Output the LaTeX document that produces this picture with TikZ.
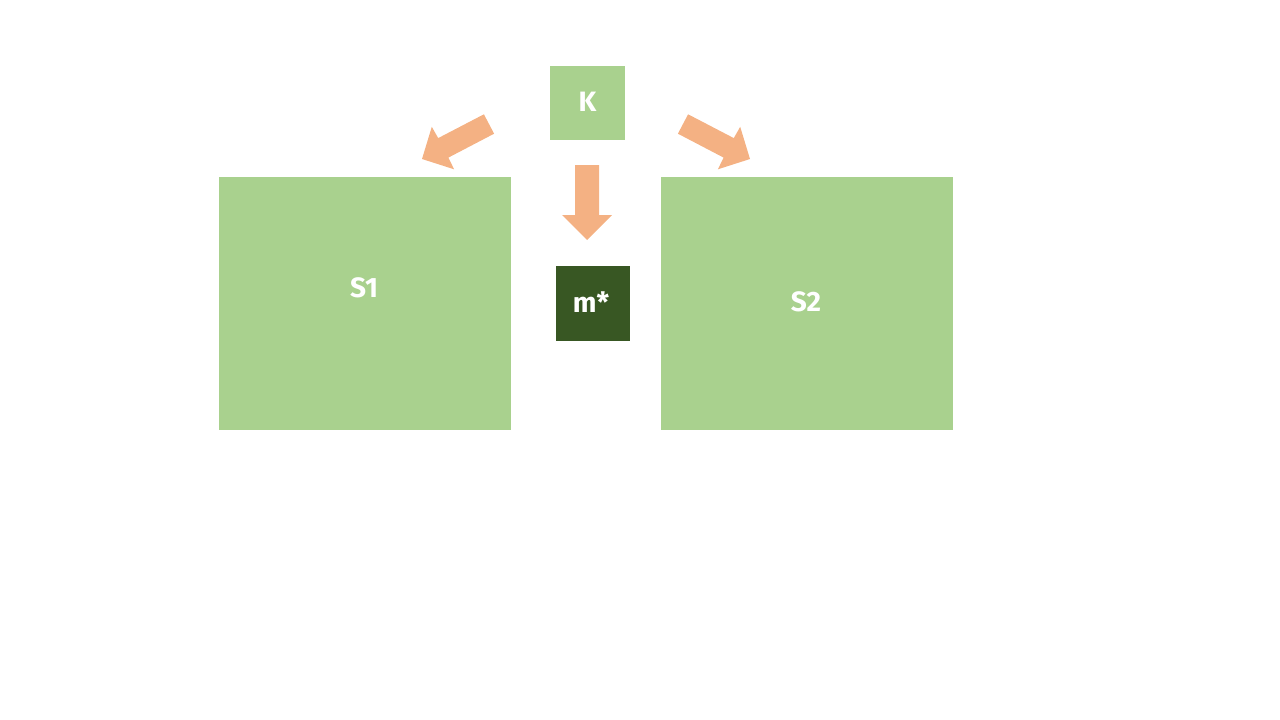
\documentclass[tikz,border=0pt]{standalone}
\usepackage{fontspec}
\setmainfont{Fira Sans}
\definecolor{lightgreen}{HTML}{A9D18E}
\definecolor{darkgreen}{HTML}{385723}
\definecolor{orangeA}{HTML}{F4B183}
\begin{document}
\begin{tikzpicture}[x=1pt,y=-1pt,
  box/.style={draw=none,fill=lightgreen},
  darkbox/.style={draw=none,fill=darkgreen},
  lbl/.style={text=white,font=\fontsize{28}{30}\selectfont\bfseries,inner sep=0pt},
  blockarrow/.style={fill=orangeA,draw=none}]
\useasboundingbox (0,0) rectangle (1280,720);
% boxes
\fill[box] (550,66) rectangle (625,140);
\node[lbl] (K) at (587.5,102) {K};
\fill[box] (219,177) rectangle (511,430);
\node[lbl] (S1) at (364,288) {S1};
\fill[box] (661,177) rectangle (953,430);
\node[lbl] (S2) at (806,302) {S2};
\fill[darkbox] (556,266) rectangle (630,341);
\node[lbl] (m) at (591,302) {m*};
% down arrow
\fill[blockarrow] (575,165) -- (599,165) -- (599,215) -- (612,215) -- (587,240) -- (562,215) -- (575,215) -- cycle;
% left arrow
\fill[blockarrow] (483.9,114.3) -- (494.1,133.7) -- (448.4,157.6) -- (454.1,169.3) -- (422,159) -- (431.8,126.8) -- (438.2,138.1) -- cycle;
% right arrow (mirror about x=586)
\fill[blockarrow] (688.1,114.3) -- (677.9,133.7) -- (723.6,157.6) -- (717.9,169.3) -- (750,159) -- (740.2,126.8) -- (733.8,138.1) -- cycle;
\end{tikzpicture}
\end{document}
